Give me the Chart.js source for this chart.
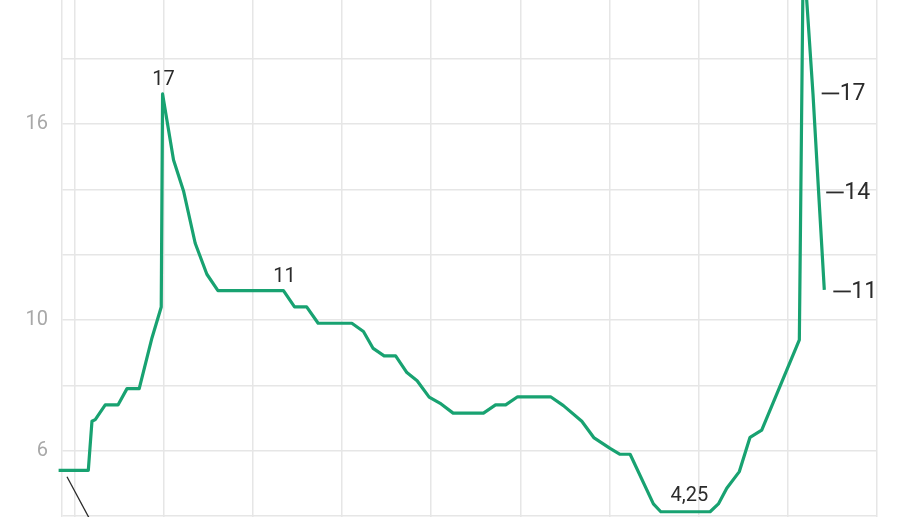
<!DOCTYPE html>
<html><head><meta charset="utf-8">
<script src="https://cdn.jsdelivr.net/npm/chart.js@4.4.0/dist/chart.umd.min.js"></script>
<style>html,body{margin:0;padding:0;background:#fff}#wrap{width:900px;height:517px;position:relative}</style>
</head><body><div id="wrap"><canvas id="c" width="900" height="517"></canvas></div>
<script>
// Key rate series (decimal years on x, percent on y)
const years = [2013.821, 2014.154, 2014.195, 2014.232, 2014.344, 2014.487, 2014.588, 2014.725, 2014.868, 2014.972,
  2014.987, 2015.110, 2015.222, 2015.353, 2015.484, 2015.608, 2016.343, 2016.467, 2016.603, 2016.732,
  2017.110, 2017.240, 2017.349, 2017.472, 2017.601, 2017.727, 2017.842, 2017.977, 2018.111, 2018.246,
  2018.586, 2018.722, 2018.835, 2018.969, 2019.339, 2019.483, 2019.689, 2019.827, 2020.006, 2020.118,
  2020.231, 2020.492, 2020.575, 2021.128, 2021.221, 2021.315, 2021.456, 2021.576, 2021.707, 2022.129,
  2022.168, 2022.209, 2022.282, 2022.345, 2022.409];
const rates = [5.4, 5.4, 6.9, 6.95, 7.4, 7.4, 7.9, 7.9, 9.45, 10.4,
  16.92, 14.9, 13.95, 12.35, 11.4, 10.9, 10.9, 10.4, 10.4, 9.9,
  9.9, 9.65, 9.13, 8.9, 8.9, 8.39, 8.14, 7.64, 7.43, 7.15,
  7.15, 7.4, 7.4, 7.65, 7.65, 7.38, 6.9, 6.39, 6.07, 5.89,
  5.89, 4.37, 4.13, 4.13, 4.37, 4.85, 5.36, 6.41, 6.63, 9.39,
  19.9, 19.9, 16.92, 13.92, 10.92];
// thin black leader line at lower left
const leaderYears = [2013.915, 2014.277];
const leaderValues = [5.2, 3.36];
// axes
const yTickValues = [4, 6, 8, 10, 12, 14, 16, 18];
const yTickLabels = {6: '6', 10: '10', 16: '16'};
const xGridYears = [2014, 2015, 2016, 2017, 2018, 2019, 2020, 2021, 2022, 2023];
// value labels
const peakLabelText = ['17', '11'];
const peakLabelIndex = [10, 16];
const minLabelText = '4,25';
const minLabelIndex = [42, 43];
const endLabelText = ['17', '14', '11'];
const endLabelIndex = [52, 53, 54];

const green = '#18a271';
const gridColor = '#e6e6e6';
const FONT = 'Roboto, "Open Sans", "DejaVu Sans", sans-serif';

const labelPlugin = {
  id: 'labels',
  afterDatasetsDraw(chart) {
    const ctx = chart.ctx, xs = chart.scales.x, ys = chart.scales.y;
    ctx.save();
    ctx.fillStyle = '#2b2b2b';
    ctx.strokeStyle = '#2b2b2b';
    ctx.textBaseline = 'middle';
    ctx.font = '20px ' + FONT;
    ctx.textAlign = 'center';
    peakLabelText.forEach((t, k) => {
      const i = peakLabelIndex[k];
      ctx.fillText(t, xs.getPixelForValue(years[i]) + 1, ys.getPixelForValue(rates[i]) - 14);
    });
    const a = minLabelIndex[0], b = minLabelIndex[1];
    const mx = (xs.getPixelForValue(years[a]) + xs.getPixelForValue(years[b])) / 2;
    ctx.fillText(minLabelText, mx + 4, ys.getPixelForValue(rates[a]) - 16);
    ctx.font = '23px ' + FONT;
    ctx.textAlign = 'left';
    const dxs = [8.7, 7.6, 9], dys = [-1, 0, 1];
    endLabelText.forEach((t, k) => {
      const i = endLabelIndex[k];
      const x0 = xs.getPixelForValue(years[i]) + dxs[k];
      const y0 = ys.getPixelForValue(rates[i]) + dys[k];
      ctx.lineWidth = 1.8;
      ctx.beginPath();
      ctx.moveTo(x0, y0 + 0.5);
      ctx.lineTo(x0 + 17.5, y0 + 0.5);
      ctx.stroke();
      ctx.fillText(t, x0 + 18, y0 + 1);
    });
    ctx.restore();
  }
};

new Chart(document.getElementById('c'), {
  type: 'line',
  data: {
    datasets: [
      {
        data: years.map((x, i) => ({x, y: rates[i]})),
        borderColor: green, borderWidth: 3.2, pointRadius: 0, tension: 0,
        borderJoinStyle: 'round', clip: false, fill: false
      },
      {
        data: leaderYears.map((x, i) => ({x, y: leaderValues[i]})),
        borderColor: '#2a2a2a', borderWidth: 1.3, pointRadius: 0, tension: 0, clip: false, fill: false
      }
    ]
  },
  options: {
    responsive: false, devicePixelRatio: 1, animation: false,
    layout: {autoPadding: false, padding: {left: 0, right: 23, top: 0, bottom: 0}},
    plugins: {legend: {display: false}, tooltip: {enabled: false}},
    scales: {
      x: {
        type: 'linear', min: 2013.859, max: 2023,
        afterBuildTicks: s => { s.ticks = xGridYears.map(v => ({value: v})); },
        afterFit: s => { s.height = 0; s.paddingLeft = 0; s.paddingRight = 0; },
        ticks: {display: false},
        grid: {color: gridColor, lineWidth: 1.5, drawTicks: false},
        border: {display: false}
      },
      y: {
        type: 'linear', min: 3.97, max: 19.795,
        afterBuildTicks: s => { s.ticks = yTickValues.map(v => ({value: v})); },
        afterFit: s => { s.width = 62; s.paddingTop = 0; s.paddingBottom = 0; },
        ticks: {
          callback: v => (yTickLabels[v] !== undefined ? yTickLabels[v] : ''),
          color: '#a8a8a8', font: {family: FONT, size: 20}, padding: 14
        },
        grid: {color: gridColor, lineWidth: 1.5, drawTicks: false},
        border: {display: true, color: gridColor, width: 1.5}
      }
    }
  },
  plugins: [labelPlugin]
});
</script>
</body></html>
